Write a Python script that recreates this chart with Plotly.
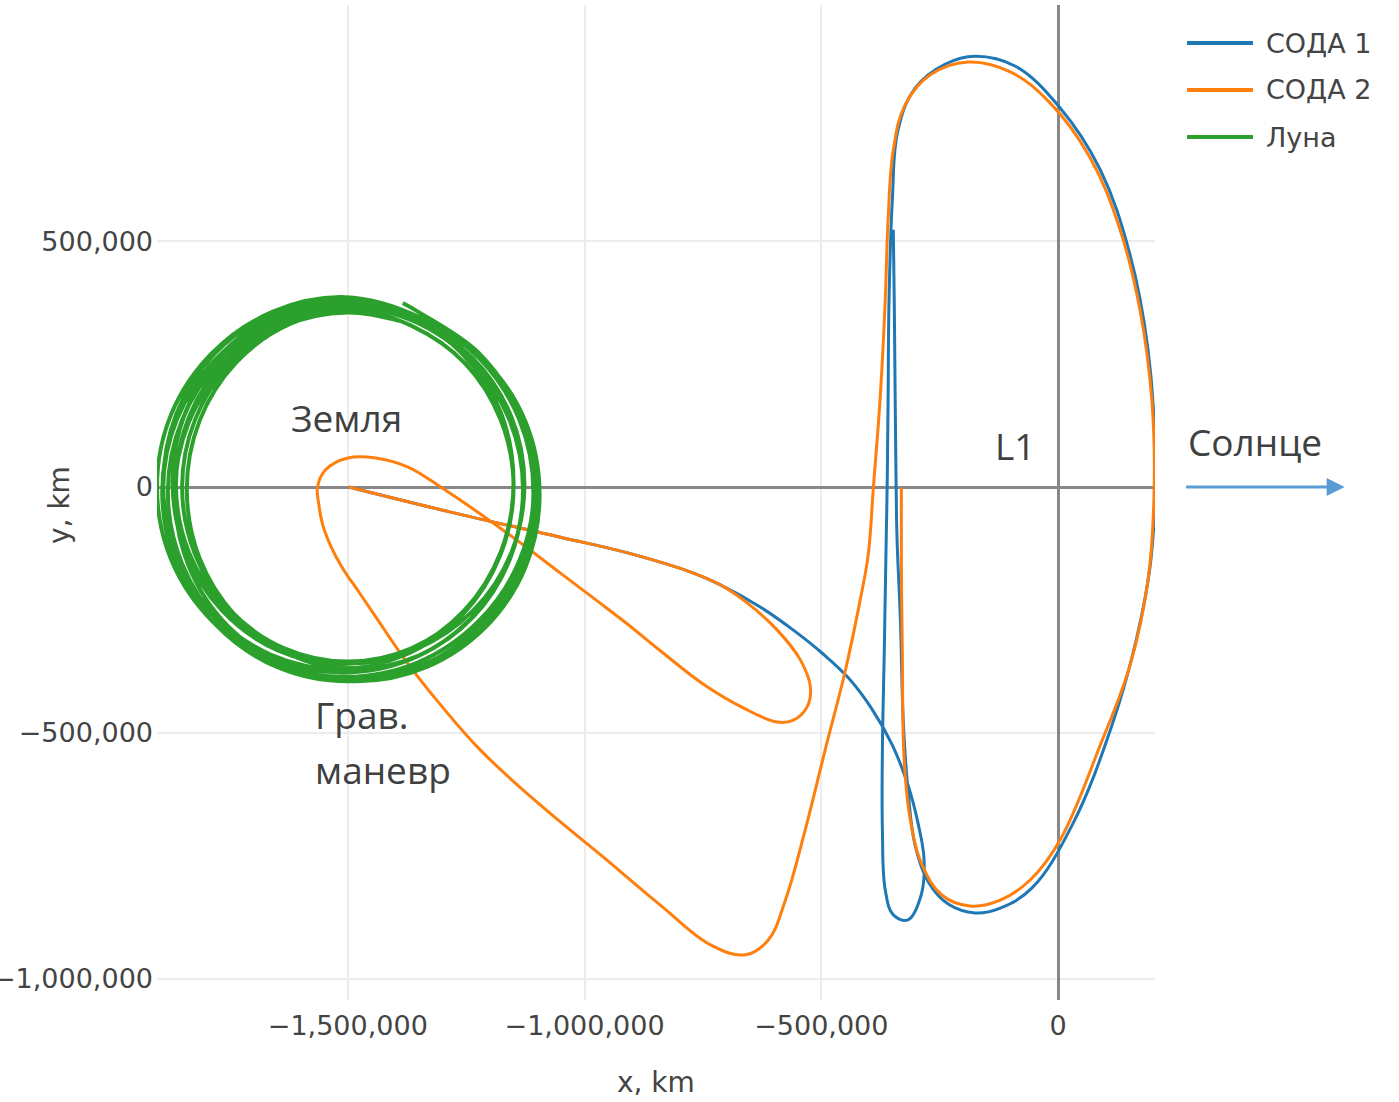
import plotly.graph_objects as go

# Units: thousands of km (converted to km below)
KM = 1000

soda1_x = [-1498, -1283, -1051, -909, -770, -713, -629, -559, -498, -443, -392, -350, -317, -295, -283,
           -289, -317, -348, -365, -371, -371, -367, -363, -361, -359, -357, -350, -338, -302, -238,
           -175, -91, 4, 89, 152, 190, 205, 196, 165, 114, 30, -55, -122, -175, -232, -274, -302, -317,
           -327, -333, -340, -342, -344, -346, -348]
soda1_y = [0, -51, -102, -134, -175, -199, -244, -291, -338, -388, -453, -525, -606, -687, -758,
           -829, -880, -870, -819, -697, -535, -331, -108, 0, 177, 380, 584, 726, 811, 860,
           876, 856, 771, 645, 472, 279, 55, -148, -311, -484, -687, -815, -856, -866, -848, -803, -728, -616,
           -474, -270, -108, 0, 177, 380, 523]

soda2_x = [-1498, -1283, -1051, -909, -770, -713, -656, -593, -544, -523, -530, -559, -593, -665, -749,
           -840, -909, -981, -1051, -1163, -1304, -1374, -1441, -1500, -1547, -1564, -1561, -1553, -1536,
           -1511, -1477, -1441, -1374, -1304, -1220, -1093, -966, -840, -734, -660, -612, -576, -534,
           -492, -449, -418, -401, -390, -376, -365, -359, -348, -323, -270, -190, -101, -17, 68, 131,
           173, 198, 203, 190, 152, 89, 4, -59, -122, -186, -245, -287, -312, -325, -329, -331, -331]
soda2_y = [0, -51, -102, -134, -175, -199, -236, -291, -352, -407, -447, -474, -478, -449, -401,
           -333, -279, -226, -175, -94, 0, 41, 59, 59, 35, 0, -37, -77, -120,
           -165, -213, -264, -358, -443, -535, -647, -748, -850, -931, -951, -921, -840, -697,
           -535, -372, -230, -138, 0, 177, 380, 543, 685, 777, 838, 864, 844, 781, 669, 523,
           360, 177, 0, -189, -362, -525, -718, -799, -840, -852, -830, -769, -677, -555, -331, -148, -2]

moon_x = [-1392,
          -1500, -1634, -1748, -1823, -1850, -1823, -1748, -1634, -1500, -1366, -1252, -1177, -1150, -1177, -1252, -1366,
          -1485, -1621, -1736, -1813, -1840, -1813, -1736, -1621, -1485, -1349, -1234, -1157, -1130, -1157, -1234, -1349,
          -1495, -1636, -1755, -1835, -1863, -1835, -1755, -1636, -1495, -1354, -1235, -1155, -1127, -1155, -1235, -1354,
          -1510, -1648, -1765, -1843, -1870, -1843, -1765, -1648, -1510, -1372, -1255, -1177, -1150, -1177, -1255, -1372,
          -1510, -1656, -1779, -1861, -1890, -1861, -1779, -1656, -1510, -1364, -1241, -1159, -1130, -1159, -1241, -1364,
          -1520, -1662, -1782, -1862, -1890, -1862, -1782, -1662, -1520, -1378, -1258, -1178, -1150, -1178, -1258, -1378,
          -1480, -1627, -1752, -1836, -1865, -1836, -1752, -1627, -1480, -1333, -1208, -1124, -1095, -1124, -1208, -1333,
          -1490, -1639, -1766, -1850, -1880, -1850, -1766, -1639, -1490, -1341, -1214, -1130, -1100, -1130, -1214, -1341,
          -1500, -1650, -1777, -1862, -1892, -1862, -1777, -1650, -1500, -1350, -1223, -1138, -1108, -1138, -1223, -1350,
          -1505, -1657, -1786, -1873, -1903, -1873, -1786, -1657, -1505, -1353, -1224, -1137, -1107, -1137, -1224, -1353,
          -1384]
moon_y = [338,
          355, 328, 251, 136, 0, -136, -251, -328, -355, -328, -251, -136, 0, 136, 251, 328,
          360, 332, 253, 135, -5, -145, -263, -342, -370, -342, -263, -145, -5, 135, 253, 332,
          367, 339, 261, 144, 5, -134, -251, -329, -357, -329, -251, -134, 5, 144, 261, 339,
          380, 352, 272, 152, 10, -132, -252, -332, -360, -332, -252, -132, 10, 152, 272, 352,
          367, 339, 258, 137, -5, -147, -268, -349, -377, -349, -268, -147, -5, 137, 258, 339,
          380, 351, 270, 149, 5, -139, -260, -341, -370, -341, -260, -139, 5, 149, 270, 351,
          365, 336, 254, 131, -15, -161, -284, -366, -395, -366, -284, -161, -15, 131, 254, 336,
          370, 341, 259, 136, -10, -156, -279, -361, -390, -361, -279, -156, -10, 136, 259, 341,
          375, 346, 262, 137, -10, -157, -282, -366, -395, -366, -282, -157, -10, 137, 262, 346,
          386, 357, 273, 148, 0, -148, -273, -357, -386, -357, -273, -148, 0, 148, 273, 357,
          374]

series_names = ["СОДА 1", "СОДА 2", "Луна"]
series_colors = ["#1f77b4", "#ff7f0e", "#2ca02c"]
series_widths = [3, 3, 4]
series_smoothing = [1.1, 1.1, 1.0]

x_ticks = [-1500000, -1000000, -500000, 0]
y_ticks = [-1000000, -500000, 0, 500000]

fig = go.Figure()
for name, color, w, sm, xs, ys in zip(series_names, series_colors, series_widths, series_smoothing,
                                      [soda1_x, soda2_x, moon_x], [soda1_y, soda2_y, moon_y]):
    fig.add_trace(go.Scatter(
        x=[v * KM for v in xs], y=[v * KM for v in ys], mode="lines", name=name,
        line=dict(color=color, width=w, shape="spline", smoothing=sm),
        showlegend=False, hoverinfo="skip",
    ))

axis_common = dict(
    showgrid=True, gridcolor="#ececec", gridwidth=2,
    zeroline=True, zerolinecolor="#888888", zerolinewidth=3,
    showline=False, ticks="", tickformat=",d", automargin=False,
    tickfont=dict(family="DejaVu Sans", size=27, color="#444"),
)

fig.update_layout(
    width=1399, height=1102,
    margin=dict(l=157, r=244, t=5, b=102),
    paper_bgcolor="white", plot_bgcolor="white",
    font=dict(family="DejaVu Sans", size=27, color="#444"),
    xaxis=dict(range=[-1903000, 204700], tickvals=x_ticks, ticklabelstandoff=7, **axis_common),
    yaxis=dict(range=[-1043000, 980000], tickvals=y_ticks, ticklabelstandoff=3, **axis_common),
    showlegend=False,
)

# Axis titles
title_font = dict(family="DejaVu Sans", size=28, color="#444")
fig.add_annotation(xref="paper", yref="paper", x=0.5, y=-0.0834, text="x, km",
                   xanchor="center", yanchor="middle", showarrow=False, font=title_font)
fig.add_annotation(xref="paper", yref="paper", x=-0.0972, y=0.4975, text="y, km",
                   xanchor="center", yanchor="middle", textangle=-90, showarrow=False, font=title_font)

# Legend (drawn manually to match long line samples)
legend_y = [0.9618, 0.9146, 0.8673]
for name, color, ly in zip(series_names, series_colors, legend_y):
    fig.add_shape(type="line", xref="paper", yref="paper", x0=1.0321, x1=1.0982, y0=ly, y1=ly,
                  line=dict(color=color, width=4))
    fig.add_annotation(xref="paper", yref="paper", x=1.1092, y=ly, text=name, showarrow=False,
                       xanchor="left", yanchor="middle",
                       font=dict(family="DejaVu Sans", size=27, color="#444"))

ann_font = dict(family="Open Sans", size=37, color="#404040")
fig.add_annotation(x=-1502000, y=142000, text="Земля", showarrow=False, font=ann_font)
fig.add_annotation(x=-91000, y=85000, text="L1", showarrow=False, font=ann_font)
fig.add_annotation(xref="paper", yref="paper", x=1.100, y=0.561, text="Солнце",
                   xanchor="center", yanchor="middle", showarrow=False, font=ann_font)
fig.add_annotation(x=-1573000, y=-463000, text="Грав.", showarrow=False,
                   xanchor="left", font=ann_font)
fig.add_annotation(x=-1573000, y=-575000, text="маневр", showarrow=False,
                   xanchor="left", font=ann_font)
fig.add_annotation(xref="paper", yref="paper", x=1.190, y=0.5156,
                   ax=-160, ay=0, axref="pixel", ayref="pixel",
                   text="", showarrow=True, arrowhead=2, arrowsize=1.2, arrowwidth=3,
                   arrowcolor="#5b9bd5")

fig.write_html("out.html", config={"displayModeBar": False},
               post_script="document.body.style.margin='0';document.body.style.overflow='hidden';")
